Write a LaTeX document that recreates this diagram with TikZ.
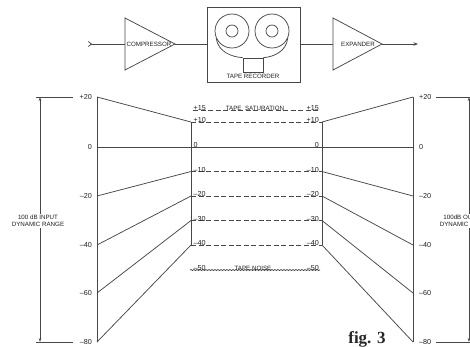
\documentclass[tikz,border=0pt]{standalone}
\usepackage{fontspec}
\setmainfont{Liberation Sans}
\newfontfamily\figfont{Liberation Serif}
\usetikzlibrary{arrows.meta,decorations.pathmorphing}
\begin{document}
\begin{tikzpicture}[x=1pt,y=-1pt,
  line/.style={draw=black!72, line width=0.75pt},
  dashline/.style={line, dash pattern=on 5pt off 2.5pt},
  lbl/.style={font=\fontsize{6.2}{7}\selectfont, inner sep=0pt, text=black!88},
  num/.style={font=\fontsize{7.2}{8}\selectfont, inner sep=0pt, text=black!88},
  dimtext/.style={lbl, align=center, fill=white, inner sep=0.8pt},
]
\useasboundingbox (0,0) rectangle (470,346);

% ---------- block diagram ----------
\coordinate (in) at (88,44);
\coordinate (ct) at (125,18);
\coordinate (cb) at (125,70);
\coordinate (cl) at (125,44);
\coordinate (ca) at (175,44);
\draw[line] (ct) -- (ca) -- (cb) -- cycle;
\node[lbl] (comp) at (149,44) {COMPRESSOR};
\draw[line, {Straight Barb[reversed,length=3pt,width=5pt]}-] (in) -- (cl);

\node[line, draw, minimum width=93pt, minimum height=75pt, inner sep=0pt] (rec) at (253.5,44.5) {};
\node[line, draw, circle, minimum size=34pt, inner sep=0pt] (reelL) at (232,31) {};
\node[line, draw, circle, minimum size=12pt, inner sep=0pt] (hubL) at (232,31) {};
\node[line, draw, circle, minimum size=34pt, inner sep=0pt] (reelR) at (272,31) {};
\node[line, draw, circle, minimum size=12pt, inner sep=0pt] (hubR) at (272,31) {};
\node[line, draw, minimum width=20pt, minimum height=14pt, inner sep=0pt] (head) at (253,65) {};
\draw[line] (reelL.205) .. controls (218,52) and (232,57) .. (head.north west);
\draw[line] (reelR.335) .. controls (286,52) and (273,57) .. (head.north east);
\node[lbl] (reclbl) at (253,76.5) {TAPE RECORDER};

\coordinate (et) at (333,18);
\coordinate (eb) at (333,70);
\coordinate (el) at (333,44);
\coordinate (ea) at (382,44);
\coordinate (out) at (418,44);
\draw[line] (et) -- (ea) -- (eb) -- cycle;
\node[lbl] (exp) at (358,44) {EXPANDER};
\draw[line] (ca) -- (ca -| rec.west);
\draw[line] (rec.east |- el) -- (el);
\draw[line, -{Stealth[length=4.5pt,width=3.5pt]}] (ea) -- (out);

% ---------- level diagram ----------
\foreach \n/\y in {20/97, 0/147, m20/196, m40/245, m60/293, m80/342}{
  \coordinate (L\n) at (97,\y);
  \coordinate (R\n) at (413,\y);
}
\foreach \n/\y in {15/110, 10/122, 0/147, m10/171.5, m20/196, m30/220.5, m40/245, m50/270}{
  \coordinate (A\n) at (191,\y);
  \coordinate (B\n) at (322,\y);
}
\draw[line] (L20) -- (Lm80);
\draw[line] (R20) -- (Rm80);
\draw[line] (A10) -- (Am40);
\draw[line] (B10) -- (Bm40);

\draw[line] (L20) -- (A10);   \draw[line] (R20) -- (B10);
\draw[line] (L0) -- (R0);
\draw[line] (Lm20) -- (Am10); \draw[line] (Rm20) -- (Bm10);
\draw[line] (Lm40) -- (Am20); \draw[line] (Rm40) -- (Bm20);
\draw[line] (Lm60) -- (Am30); \draw[line] (Rm60) -- (Bm30);
\draw[line] (Lm80) -- (Am40); \draw[line] (Rm80) -- (Bm40);

\foreach \n in {10, m10, m20, m30, m40}{
  \draw[dashline] (A\n) -- (B\n);
}
\draw[dashline] ([xshift=2pt]A15) -- ([xshift=-2pt]B15);
\draw[line, decorate, decoration={snake, amplitude=0.5pt, segment length=3pt}] ([xshift=-1pt]Am50) -- ([xshift=-2pt]Bm50);

% outer labels
\foreach \n/\t in {20/+20, 0/0, m20/--20, m40/--40, m60/--60, m80/--80}{
  \node[num, anchor=east] (lt\n) at ([xshift=-5pt]L\n) {\t};
  \node[num, anchor=west] (rt\n) at ([xshift=6pt]R\n) {\t};
}
% inner labels
\foreach \n/\t in {15/+15, 10/+10, 0/0, m10/--10, m20/--20, m30/--30, m40/--40, m50/--50}{
  \node[num, anchor=south west] (at\n) at ([xshift=2.5pt,yshift=-1.2pt]A\n) {\t};
  \node[num, anchor=south east] (bt\n) at ([xshift=-3pt,yshift=-1.2pt]B\n) {\t};
}
\node[lbl, anchor=south] (sat) at ([yshift=-1.2pt]255,110) {TAPE\ \ SATURATION};
\node[lbl, anchor=south] (noise) at ([yshift=-1.2pt]253,270) {TAPE NOISE};

% dimension arrows
\coordinate (dlt) at (40,97);
\coordinate (dlb) at (40,342);
\draw[line] (36,97) -- (73,97);
\draw[line] (36,342) -- (73,342);
\draw[line, {Stealth[length=4pt,width=2.5pt]}-{Stealth[length=4pt,width=2.5pt]}] (dlt) -- (dlb);
\node[dimtext] (inrange) at (38,221) {100 dB INPUT\\DYNAMIC RANGE};

\coordinate (drt) at (469,97);
\coordinate (drb) at (469,342);
\draw[line] (436,97) -- (480,97);
\draw[line] (436,342) -- (480,342);
\draw[line, {Stealth[length=4pt,width=2.5pt]}-{Stealth[length=4pt,width=2.5pt]}] (drt) -- (drb);
\node[dimtext] (outrange) at (466,221) {100dB OUTPUT\\DYNAMIC RANGE};

\node[font=\figfont\bfseries\fontsize{17}{17}\selectfont, text=black!85, anchor=base, inner sep=0pt] (fig) at (367,343) {fig. 3};
\end{tikzpicture}
\end{document}
